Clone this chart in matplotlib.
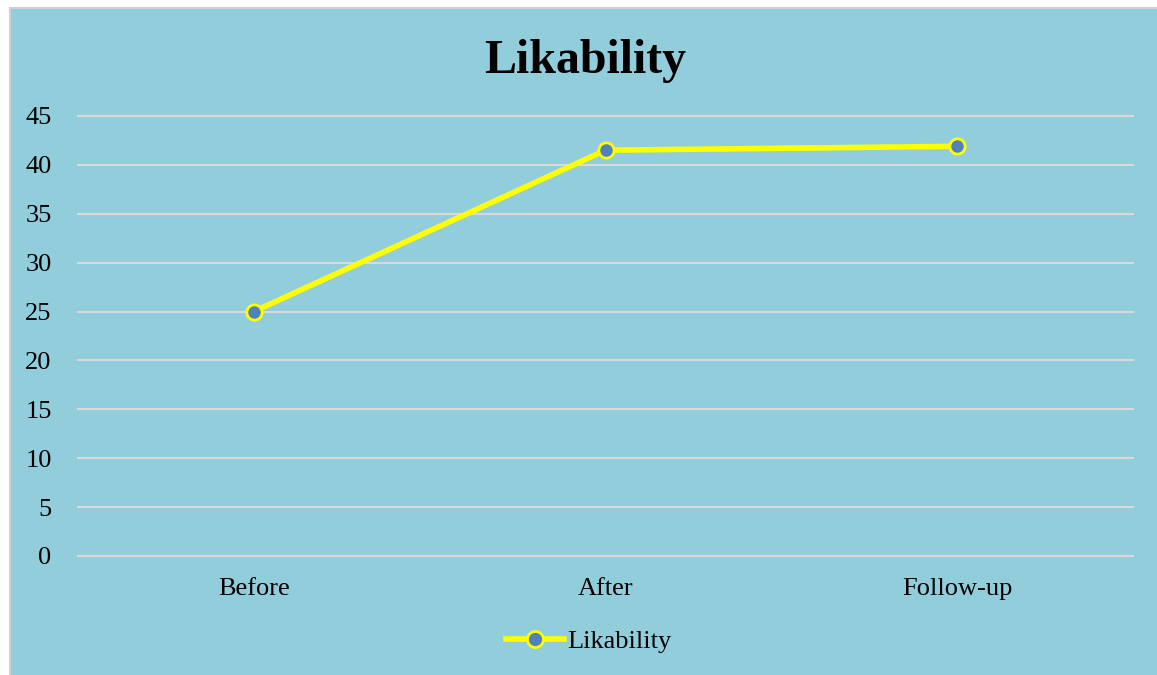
import matplotlib
matplotlib.use("Agg")
import matplotlib.pyplot as plt
from matplotlib.patches import Rectangle

categories = ["Before", "After", "Follow-up"]
values = [25.0, 41.5, 41.9]
yticks = [0, 5, 10, 15, 20, 25, 30, 35, 40, 45]

BG = "#92CDDC"
plt.rcParams["font.family"] = ["Liberation Serif", "DejaVu Serif"]

W, H = 1157, 675
fig = plt.figure(figsize=(W / 100, H / 100), dpi=100)
fig.patch.set_facecolor("white")

# chart area panel with thin grey border (left/top only visible)
fig.patches.append(Rectangle((10 / W, -0.05), 1.05, 1.05 - 8 / H,
                             transform=fig.transFigure, facecolor=BG,
                             edgecolor="#D0D0D0", linewidth=1.5, zorder=-5))

ax = fig.add_axes([78 / W, 1 - 556 / H, (1133 - 78) / W, (556 - 116) / H])
ax.patch.set_alpha(0)

x = [i + 0.5 for i in range(len(categories))]
ax.plot(x, values, color="#FFFF00", linewidth=4, marker="o", markersize=11,
        markerfacecolor="#4F81BD", markeredgecolor="#FFFF00", markeredgewidth=2,
        label="Likability", zorder=3, clip_on=False)

ax.set_xlim(0, 3)
ax.set_ylim(0, 45)
ax.set_yticks(yticks)
ax.set_xticks(x)
ax.set_xticklabels(categories)
ax.yaxis.grid(True, color="#D9D9D9", linewidth=1.5)
for gl in ax.get_ygridlines():
    gl.set_clip_on(False)
ax.set_axisbelow(True)
for s in ax.spines.values():
    s.set_visible(False)
ax.tick_params(axis="both", length=0, labelsize=19, colors="black")
ax.tick_params(axis="y", pad=19)
ax.tick_params(axis="x", pad=16)

fig.text(0.506, 1 - 61 / H, "Likability", ha="center", va="center",
         fontsize=34.5, fontweight="bold")

fig.legend(loc="center", bbox_to_anchor=(0.509, 1 - 641 / H), frameon=False,
           fontsize=19, handlelength=2.2, handletextpad=0.1, markerscale=1.05)

fig.savefig("out.png", dpi=100, facecolor=fig.get_facecolor())
